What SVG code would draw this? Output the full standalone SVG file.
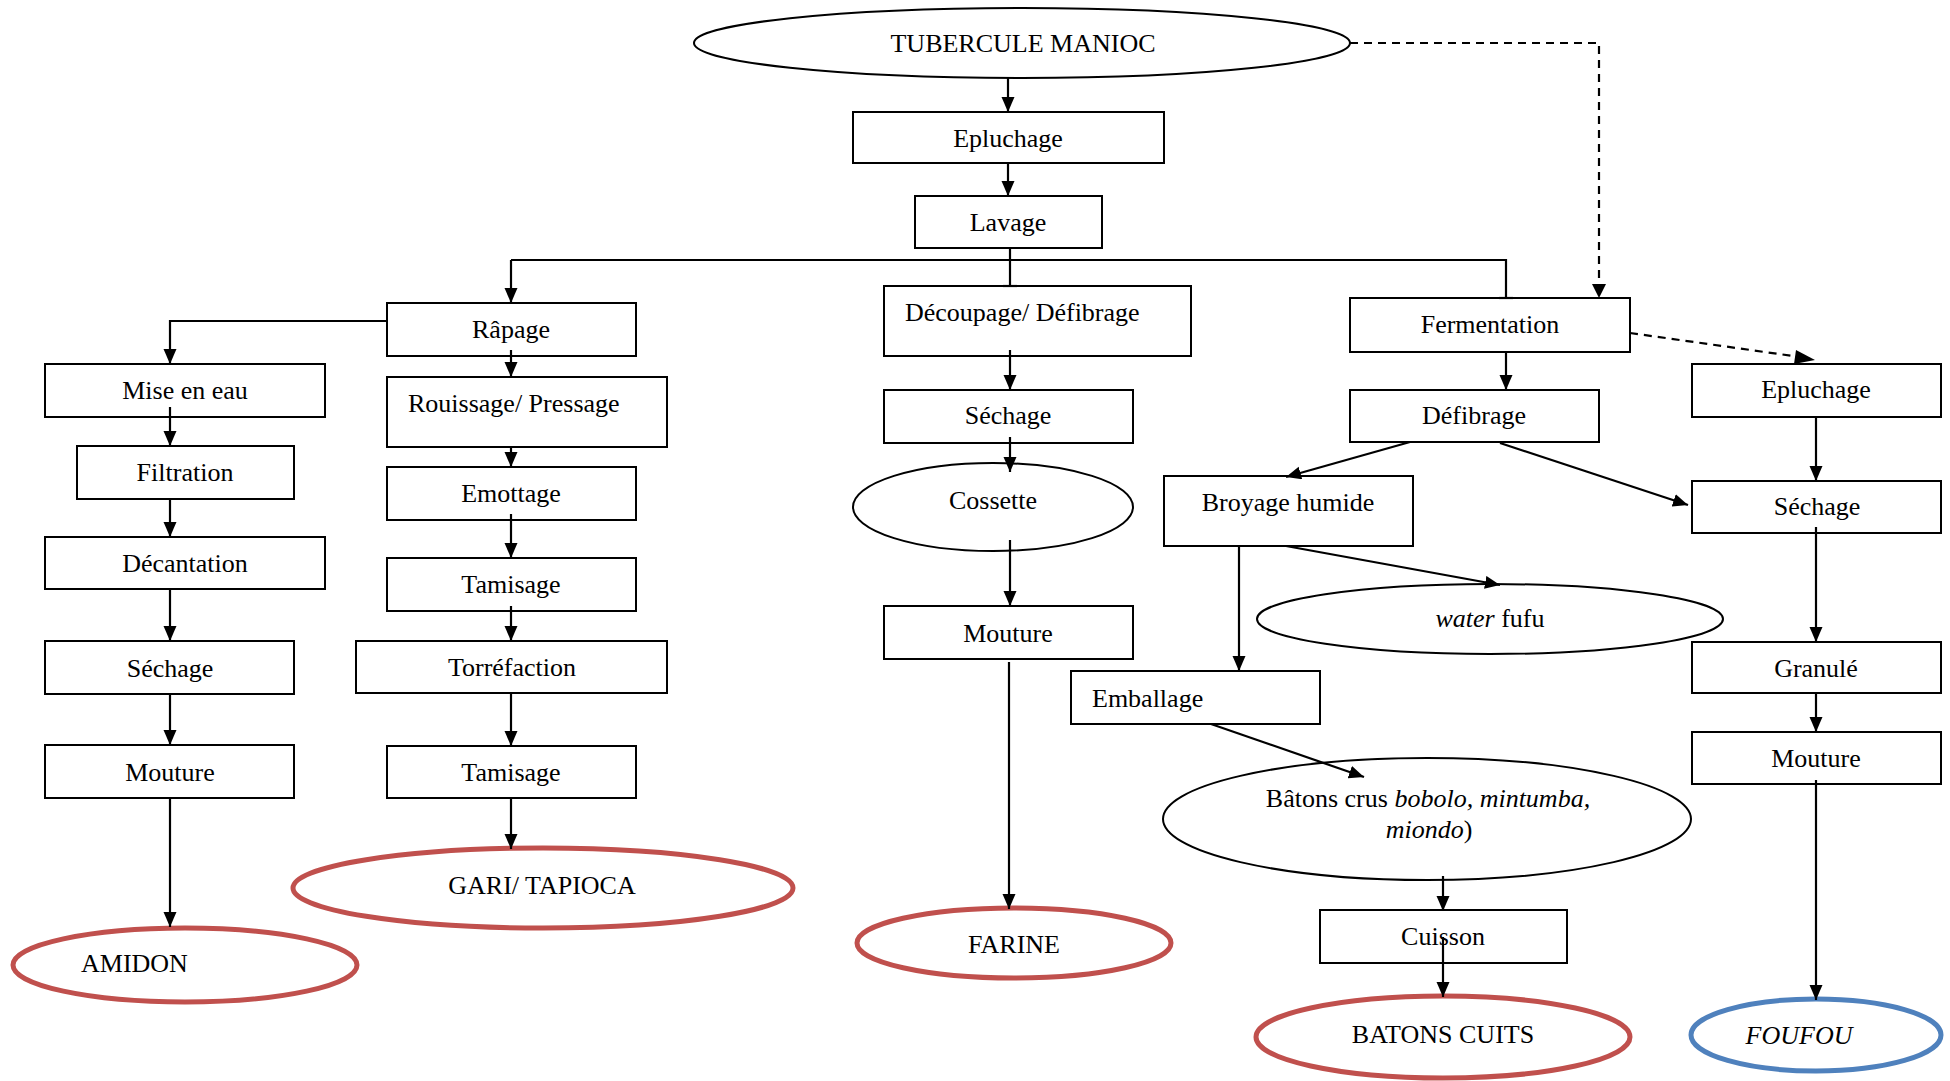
<svg xmlns="http://www.w3.org/2000/svg" width="1950" height="1081" viewBox="0 0 1950 1081">
<defs>
<marker id="ah" markerUnits="userSpaceOnUse" markerWidth="16" markerHeight="14" refX="15" refY="6.5" orient="auto">
<path d="M0,0 L15,6.5 L0,13 z" fill="#000"/>
</marker>
<style>
.b{fill:#fff;stroke:#000;stroke-width:2}
.e{fill:#fff;stroke:#000;stroke-width:2}
.r{fill:#fff;stroke:#C0504D;stroke-width:5}
.bl{fill:#fff;stroke:#4F81BD;stroke-width:5}
text{font-family:"Liberation Serif","Times New Roman",serif;font-size:26px;fill:#000}
.c{text-anchor:middle}
.ln{fill:none;stroke:#000;stroke-width:2.2}
.ar{fill:none;stroke:#000;stroke-width:2.2;marker-end:url(#ah)}
.da{fill:none;stroke:#000;stroke-width:2.2;stroke-dasharray:8,6}
</style>
</defs>
<rect width="1950" height="1081" fill="#fff"/>

<g id="tubercule"><ellipse class="e" cx="1022" cy="43" rx="328" ry="35"/><text class="c" x="1023" y="52">TUBERCULE MANIOC</text></g>
<g id="epluchage1"><rect class="b" x="853" y="112" width="311" height="51"/><text class="c" x="1008" y="147">Epluchage</text></g>
<g id="lavage"><rect class="b" x="915" y="196" width="187" height="52"/><text class="c" x="1008" y="231">Lavage</text></g>

<g id="rapage"><rect class="b" x="387" y="303" width="249" height="53"/><text class="c" x="511" y="338">Râpage</text></g>
<g id="miseeneau"><rect class="b" x="45" y="364" width="280" height="53"/><text class="c" x="185" y="399">Mise en eau</text></g>
<g id="filtration"><rect class="b" x="77" y="446" width="217" height="53"/><text class="c" x="185" y="481">Filtration</text></g>
<g id="decantation"><rect class="b" x="45" y="537" width="280" height="52"/><text class="c" x="185" y="572">Décantation</text></g>
<g id="sechage1"><rect class="b" x="45" y="641" width="249" height="53"/><text class="c" x="170" y="677">Séchage</text></g>
<g id="mouture1"><rect class="b" x="45" y="745" width="249" height="53"/><text class="c" x="170" y="781">Mouture</text></g>
<g id="amidon"><ellipse class="r" cx="185" cy="965" rx="172" ry="37"/><text x="81" y="972">AMIDON</text></g>

<g id="rouissage"><rect class="b" x="387" y="377" width="280" height="70"/><text x="408" y="412">Rouissage/ Pressage</text></g>
<g id="emottage"><rect class="b" x="387" y="467" width="249" height="53"/><text class="c" x="511" y="502">Emottage</text></g>
<g id="tamisage1"><rect class="b" x="387" y="558" width="249" height="53"/><text class="c" x="511" y="593">Tamisage</text></g>
<g id="torrefaction"><rect class="b" x="356" y="641" width="311" height="52"/><text class="c" x="512" y="676">Torréfaction</text></g>
<g id="tamisage2"><rect class="b" x="387" y="746" width="249" height="52"/><text class="c" x="511" y="781">Tamisage</text></g>
<g id="gari"><ellipse class="r" cx="543" cy="888" rx="250" ry="40"/><text class="c" x="542" y="894">GARI/ TAPIOCA</text></g>

<g id="decoupage"><rect class="b" x="884" y="286" width="307" height="70"/><text x="905" y="321">Découpage/ Défibrage</text></g>
<g id="sechage2"><rect class="b" x="884" y="390" width="249" height="53"/><text class="c" x="1008" y="424">Séchage</text></g>
<g id="cossette"><ellipse class="e" cx="993" cy="507" rx="140" ry="44"/><text class="c" x="993" y="509">Cossette</text></g>
<g id="mouture2"><rect class="b" x="884" y="606" width="249" height="53"/><text class="c" x="1008" y="642">Mouture</text></g>
<g id="farine"><ellipse class="r" cx="1014" cy="943" rx="157" ry="35"/><text class="c" x="1014" y="953">FARINE</text></g>

<g id="fermentation"><rect class="b" x="1350" y="298" width="280" height="54"/><text class="c" x="1490" y="333">Fermentation</text></g>
<g id="defibrage"><rect class="b" x="1350" y="390" width="249" height="52"/><text class="c" x="1474" y="424">Défibrage</text></g>
<g id="broyage"><rect class="b" x="1164" y="476" width="249" height="70"/><text class="c" x="1288" y="511">Broyage humide</text></g>
<g id="waterfufu"><ellipse class="e" cx="1490" cy="619" rx="233" ry="35"/><text class="c" x="1490" y="627"><tspan font-style="italic">water</tspan> fufu</text></g>
<g id="emballage"><rect class="b" x="1071" y="671" width="249" height="53"/><text x="1092" y="707">Emballage</text></g>
<g id="batonscrus"><ellipse class="e" cx="1427" cy="819" rx="264" ry="61"/><text class="c" x="1428" y="807">Bâtons crus <tspan font-style="italic">bobolo, mintumba,</tspan></text><text class="c" x="1429" y="838"><tspan font-style="italic">miondo</tspan>)</text></g>
<g id="cuisson"><rect class="b" x="1320" y="910" width="247" height="53"/><text class="c" x="1443" y="945">Cuisson</text></g>
<g id="batonscuits"><ellipse class="r" cx="1443" cy="1037" rx="187" ry="41"/><text class="c" x="1443" y="1043">BATONS CUITS</text></g>

<g id="epluchage2"><rect class="b" x="1692" y="364" width="249" height="53"/><text class="c" x="1816" y="398">Epluchage</text></g>
<g id="sechage3"><rect class="b" x="1692" y="481" width="249" height="52"/><text class="c" x="1817" y="515">Séchage</text></g>
<g id="granule"><rect class="b" x="1692" y="642" width="249" height="51"/><text class="c" x="1816" y="677">Granulé</text></g>
<g id="mouture3"><rect class="b" x="1692" y="732" width="249" height="52"/><text class="c" x="1816" y="767">Mouture</text></g>
<g id="foufou"><ellipse class="bl" cx="1816" cy="1035" rx="125" ry="36"/><text class="c" x="1799" y="1044" font-style="italic">FOUFOU</text></g>

<g id="connectors">
<line class="ar" x1="1008" y1="78" x2="1008" y2="112"/>
<line class="ar" x1="1008" y1="163" x2="1008" y2="196"/>
<polyline class="ln" points="1010,248 1010,286"/>
<line class="ln" x1="1003" y1="286" x2="1017" y2="286"/>
<polyline class="ln" points="511,260 1506,260 1506,298"/>
<line class="ln" x1="1499" y1="298" x2="1513" y2="298"/>
<line class="ar" x1="511" y1="260" x2="511" y2="303"/>
<polyline class="ar" points="387,321 170,321 170,364"/>
<line class="ar" x1="170" y1="407" x2="170" y2="446"/>
<line class="ar" x1="170" y1="499" x2="170" y2="537"/>
<line class="ar" x1="170" y1="589" x2="170" y2="641"/>
<line class="ar" x1="170" y1="694" x2="170" y2="745"/>
<line class="ar" x1="170" y1="798" x2="170" y2="927"/>
<line class="ar" x1="511" y1="350" x2="511" y2="377"/>
<line class="ar" x1="511" y1="447" x2="511" y2="467"/>
<line class="ar" x1="511" y1="514" x2="511" y2="558"/>
<line class="ar" x1="511" y1="606" x2="511" y2="641"/>
<line class="ar" x1="511" y1="693" x2="511" y2="746"/>
<line class="ar" x1="511" y1="798" x2="511" y2="849"/>
<line class="ar" x1="1010" y1="350" x2="1010" y2="390"/>
<line class="ar" x1="1010" y1="437" x2="1010" y2="472"/>
<line class="ar" x1="1010" y1="540" x2="1010" y2="606"/>
<line class="ar" x1="1009" y1="662" x2="1009" y2="909"/>
<polyline class="da" points="1350,43 1599,43 1599,290"/>
<path d="M1592,284 L1599,298 L1606,284 z" fill="#000"/>
<line class="da" x1="1630" y1="333" x2="1800" y2="357"/>
<path d="M1796,350 L1815,360 L1794,364 z" fill="#000"/>
<line class="ar" x1="1506" y1="352" x2="1506" y2="390"/>
<line class="ar" x1="1816" y1="417" x2="1816" y2="481"/>
<line class="ar" x1="1500" y1="443" x2="1688" y2="505"/>
<line class="ar" x1="1816" y1="527" x2="1816" y2="642"/>
<line class="ar" x1="1816" y1="693" x2="1816" y2="732"/>
<line class="ar" x1="1816" y1="780" x2="1816" y2="1000"/>
<line class="ar" x1="1410" y1="442" x2="1286" y2="477"/>
<line class="ar" x1="1286" y1="546" x2="1500" y2="585"/>
<line class="ar" x1="1239" y1="546" x2="1239" y2="671"/>
<line class="ar" x1="1211" y1="724" x2="1364" y2="777"/>
<line class="ar" x1="1443" y1="876" x2="1443" y2="911"/>
<line class="ar" x1="1443" y1="937" x2="1443" y2="997"/>
</g>
</svg>
